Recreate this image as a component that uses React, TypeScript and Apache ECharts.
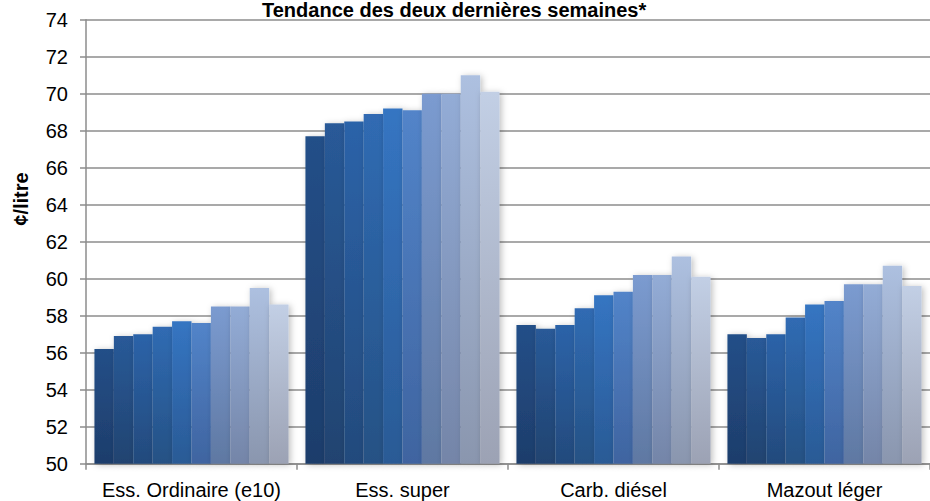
import React, { useEffect, useRef } from "react";
import * as echarts from "echarts";

const categories = ["Ess. Ordinaire (e10)", "Ess. super", "Carb. diésel", "Mazout léger"];

// Ten consecutive observations (oldest to newest) per product, ¢/litre
const week1 = [56.2, 67.7, 57.5, 57.0];
const week2 = [56.9, 68.4, 57.3, 56.8];
const week3 = [57.0, 68.5, 57.5, 57.0];
const week4 = [57.4, 68.9, 58.4, 57.9];
const week5 = [57.7, 69.2, 59.1, 58.6];
const week6 = [57.6, 69.1, 59.3, 58.8];
const week7 = [58.5, 70.0, 60.2, 59.7];
const week8 = [58.5, 70.0, 60.2, 59.7];
const week9 = [59.5, 71.0, 61.2, 60.7];
const week10 = [58.6, 70.1, 60.1, 59.6];

const seriesValues = [week1, week2, week3, week4, week5, week6, week7, week8, week9, week10];

const yTicks = [50, 52, 54, 56, 58, 60, 62, 64, 66, 68, 70, 72, 74];

const topColors = ["#234f88", "#295a98", "#2c63a9", "#306bb3", "#3575c2", "#5284c9", "#7b9bd0", "#93acd6", "#adc0e0", "#c2cfe5"];
const bottomColors = ["#1e3d6b", "#214370", "#234a7c", "#255184", "#2a5a95", "#3f64a0", "#5f78a2", "#7485a8", "#8a96ae", "#9ca2b4"];

const FONT = "'Liberation Sans', Arial, sans-serif";

export default function App() {
  const ref = useRef<HTMLDivElement>(null);

  useEffect(() => {
    if (!ref.current) return;
    const chart = echarts.init(ref.current, null, { renderer: "svg" });
    chart.setOption({
      animation: false,
      backgroundColor: "#ffffff",
      title: {
        text: "Tendance des deux dernières semaines*",
        left: 262,
        top: 0,
        padding: 0,
        textStyle: { fontFamily: FONT, fontSize: 20, fontWeight: "bold", color: "#000" },
      },
      graphic: [
        {
          type: "text",
          x: 21,
          y: 199,
          rotation: Math.PI / 2,
          style: {
            text: "¢/litre",
            font: "bold 20px 'Liberation Sans', Arial, sans-serif",
            fill: "#000",
            align: "center",
            verticalAlign: "middle",
          },
        },
      ],
      grid: { left: 86, right: -4, top: 19.7, bottom: 37.3, containLabel: false },
      xAxis: {
        type: "category",
        data: categories,
        axisLine: { lineStyle: { color: "#8c8c8c", width: 1.5 } },
        axisTick: { show: true, length: 6, lineStyle: { color: "#8c8c8c", width: 1.5 } },
        axisLabel: { interval: 0, fontFamily: FONT, fontSize: 20, color: "#000", margin: 16 },
      },
      yAxis: {
        type: "value",
        min: yTicks[0],
        max: yTicks[yTicks.length - 1],
        interval: 2,
        axisLine: { show: true, lineStyle: { color: "#8c8c8c", width: 1.5 } },
        axisTick: { show: true, inside: false, length: 6, lineStyle: { color: "#8c8c8c", width: 1.5 } },
        axisLabel: { fontFamily: FONT, fontSize: 20, color: "#000", margin: 18 },
        splitLine: { show: true, lineStyle: { color: "#8c8c8c", width: 1.5 } },
      },
      series: seriesValues.map((vals, i) => ({
        type: "bar",
        name: `S${i + 1}`,
        data: vals,
        barGap: "0%",
        barCategoryGap: "8%",
        itemStyle: {
          color: new echarts.graphic.LinearGradient(0, 0, 0, 1, [
            { offset: 0, color: topColors[i] },
            { offset: 1, color: bottomColors[i] },
          ]),
          shadowBlur: 6,
          shadowColor: "rgba(0,0,0,0.25)",
          shadowOffsetX: 2,
          shadowOffsetY: 1,
        },
      })),
    });
    return () => chart.dispose();
  }, []);

  return (
    <div
      ref={ref}
      style={{ position: "fixed", left: 0, top: 0, width: 930, height: 501 }}
    />
  );
}
